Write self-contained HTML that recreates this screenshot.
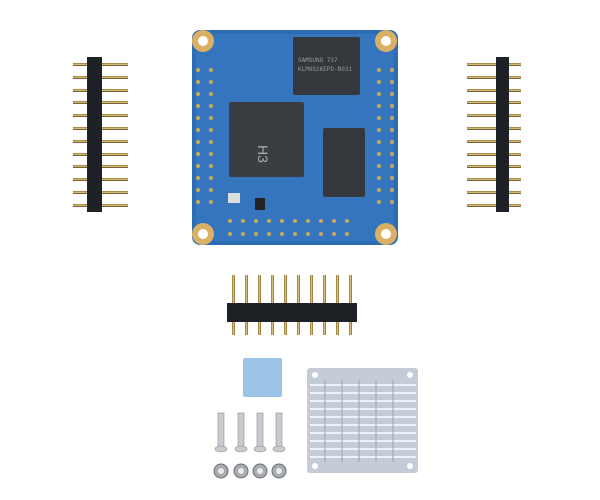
<!DOCTYPE html><html><head><style>body{margin:0;background:#fff}svg{display:block}</style></head><body>
<svg width="600" height="500" viewBox="0 0 600 500" xmlns="http://www.w3.org/2000/svg">
<defs>
<linearGradient id="pin" x1="0" x2="1"><stop offset="0" stop-color="#8a6a2a"/><stop offset=".5" stop-color="#e8d08a"/><stop offset="1" stop-color="#7a5a20"/></linearGradient>
<linearGradient id="pinv" x1="0" x2="0" y1="0" y2="1"><stop offset="0" stop-color="#8a6a2a"/><stop offset=".5" stop-color="#e8d08a"/><stop offset="1" stop-color="#3a2a10"/></linearGradient>
</defs>
<rect width="600" height="500" fill="#fff"/>
<!-- board -->
<rect x="192" y="30" width="206" height="215" rx="8" fill="#2c6cb4"/>
<rect x="196" y="34" width="198" height="207" rx="6" fill="#3a7cc4" opacity=".6"/>
<g fill="#d9b064"><circle cx="203" cy="41" r="11"/><circle cx="386" cy="41" r="11"/><circle cx="203" cy="234" r="11"/><circle cx="386" cy="234" r="11"/></g>
<g fill="#fff"><circle cx="203" cy="41" r="5"/><circle cx="386" cy="41" r="5"/><circle cx="203" cy="234" r="5"/><circle cx="386" cy="234" r="5"/></g>
<g fill="#c9a85a">
<circle cx="198" cy="70" r="2"/><circle cx="198" cy="82" r="2"/><circle cx="198" cy="94" r="2"/><circle cx="198" cy="106" r="2"/><circle cx="198" cy="118" r="2"/><circle cx="198" cy="130" r="2"/><circle cx="198" cy="142" r="2"/><circle cx="198" cy="154" r="2"/><circle cx="198" cy="166" r="2"/><circle cx="198" cy="178" r="2"/><circle cx="198" cy="190" r="2"/><circle cx="198" cy="202" r="2"/>
<circle cx="211" cy="70" r="2"/><circle cx="211" cy="82" r="2"/><circle cx="211" cy="94" r="2"/><circle cx="211" cy="106" r="2"/><circle cx="211" cy="118" r="2"/><circle cx="211" cy="130" r="2"/><circle cx="211" cy="142" r="2"/><circle cx="211" cy="154" r="2"/><circle cx="211" cy="166" r="2"/><circle cx="211" cy="178" r="2"/><circle cx="211" cy="190" r="2"/><circle cx="211" cy="202" r="2"/>
<circle cx="379" cy="70" r="2"/><circle cx="379" cy="82" r="2"/><circle cx="379" cy="94" r="2"/><circle cx="379" cy="106" r="2"/><circle cx="379" cy="118" r="2"/><circle cx="379" cy="130" r="2"/><circle cx="379" cy="142" r="2"/><circle cx="379" cy="154" r="2"/><circle cx="379" cy="166" r="2"/><circle cx="379" cy="178" r="2"/><circle cx="379" cy="190" r="2"/><circle cx="379" cy="202" r="2"/>
<circle cx="392" cy="70" r="2"/><circle cx="392" cy="82" r="2"/><circle cx="392" cy="94" r="2"/><circle cx="392" cy="106" r="2"/><circle cx="392" cy="118" r="2"/><circle cx="392" cy="130" r="2"/><circle cx="392" cy="142" r="2"/><circle cx="392" cy="154" r="2"/><circle cx="392" cy="166" r="2"/><circle cx="392" cy="178" r="2"/><circle cx="392" cy="190" r="2"/><circle cx="392" cy="202" r="2"/>
<circle cx="230" cy="221" r="2"/><circle cx="243" cy="221" r="2"/><circle cx="256" cy="221" r="2"/><circle cx="269" cy="221" r="2"/><circle cx="282" cy="221" r="2"/><circle cx="295" cy="221" r="2"/><circle cx="308" cy="221" r="2"/><circle cx="321" cy="221" r="2"/><circle cx="334" cy="221" r="2"/><circle cx="347" cy="221" r="2"/>
<circle cx="230" cy="234" r="2"/><circle cx="243" cy="234" r="2"/><circle cx="256" cy="234" r="2"/><circle cx="269" cy="234" r="2"/><circle cx="282" cy="234" r="2"/><circle cx="295" cy="234" r="2"/><circle cx="308" cy="234" r="2"/><circle cx="321" cy="234" r="2"/><circle cx="334" cy="234" r="2"/><circle cx="347" cy="234" r="2"/>
</g>
<rect x="229" y="102" width="75" height="75" rx="2" fill="#3a3d42"/>
<text x="258" y="145" font-family="Liberation Sans,sans-serif" font-size="14" fill="#aaa" transform="rotate(90 258 145)">H3</text>
<rect x="293" y="37" width="67" height="58" rx="2" fill="#34373c"/>
<text x="298" y="62" font-family="Liberation Mono,monospace" font-size="6" fill="#999">SAMSUNG   737</text>
<text x="298" y="71" font-family="Liberation Mono,monospace" font-size="6" fill="#999">KLM8G1KEPD-B031</text>
<rect x="323" y="128" width="42" height="69" rx="2" fill="#34373c"/>
<rect x="255" y="198" width="10" height="12" fill="#222"/><rect x="228" y="193" width="12" height="10" fill="#ddd"/>
<!-- left header -->
<g fill="url(#pinv)">
<rect x="73" y="63" width="55" height="3"/><rect x="73" y="76" width="55" height="3"/><rect x="73" y="89" width="55" height="3"/><rect x="73" y="101" width="55" height="3"/><rect x="73" y="114" width="55" height="3"/><rect x="73" y="127" width="55" height="3"/><rect x="73" y="140" width="55" height="3"/><rect x="73" y="153" width="55" height="3"/><rect x="73" y="165" width="55" height="3"/><rect x="73" y="178" width="55" height="3"/><rect x="73" y="191" width="55" height="3"/><rect x="73" y="204" width="55" height="3"/>
</g>
<rect x="87" y="57" width="15" height="155" fill="#1e2226"/>
<!-- right header -->
<g fill="url(#pinv)">
<rect x="467" y="63" width="54" height="3"/><rect x="467" y="76" width="54" height="3"/><rect x="467" y="89" width="54" height="3"/><rect x="467" y="101" width="54" height="3"/><rect x="467" y="114" width="54" height="3"/><rect x="467" y="127" width="54" height="3"/><rect x="467" y="140" width="54" height="3"/><rect x="467" y="153" width="54" height="3"/><rect x="467" y="165" width="54" height="3"/><rect x="467" y="178" width="54" height="3"/><rect x="467" y="191" width="54" height="3"/><rect x="467" y="204" width="54" height="3"/>
</g>
<rect x="496" y="57" width="13" height="155" fill="#1e2226"/>
<!-- bottom header -->
<g fill="url(#pin)">
<rect x="232" y="275" width="3" height="60"/><rect x="245" y="275" width="3" height="60"/><rect x="258" y="275" width="3" height="60"/><rect x="271" y="275" width="3" height="60"/><rect x="284" y="275" width="3" height="60"/><rect x="297" y="275" width="3" height="60"/><rect x="310" y="275" width="3" height="60"/><rect x="323" y="275" width="3" height="60"/><rect x="336" y="275" width="3" height="60"/><rect x="349" y="275" width="3" height="60"/>
</g>
<rect x="227" y="303" width="130" height="19" fill="#1e2226"/>
<!-- thermal pad -->
<rect x="243" y="358" width="39" height="39" rx="2" fill="#9cc4e8"/>
<!-- screws -->
<g fill="#c8ccd0" stroke="#8a8e92" stroke-width=".6">
<rect x="218" y="413" width="6" height="34"/><rect x="238" y="413" width="6" height="34"/><rect x="257" y="413" width="6" height="34"/><rect x="276" y="413" width="6" height="34"/>
<ellipse cx="221" cy="449" rx="6" ry="3"/><ellipse cx="241" cy="449" rx="6" ry="3"/><ellipse cx="260" cy="449" rx="6" ry="3"/><ellipse cx="279" cy="449" rx="6" ry="3"/>
</g>
<g fill="#a8acb0" stroke="#6a6e72" stroke-width="1">
<circle cx="221" cy="471" r="7"/><circle cx="241" cy="471" r="7"/><circle cx="260" cy="471" r="7"/><circle cx="279" cy="471" r="7"/>
</g>
<g fill="#e8eaec"><circle cx="221" cy="471" r="3"/><circle cx="241" cy="471" r="3"/><circle cx="260" cy="471" r="3"/><circle cx="279" cy="471" r="3"/></g>
<!-- heatsink -->
<rect x="307" y="368" width="111" height="105" rx="3" fill="#c4ccd8"/>
<g stroke="#eef2f8" stroke-width="2">
<line x1="310" y1="385" x2="416" y2="385"/><line x1="310" y1="393" x2="416" y2="393"/><line x1="310" y1="401" x2="416" y2="401"/><line x1="310" y1="409" x2="416" y2="409"/><line x1="310" y1="417" x2="416" y2="417"/><line x1="310" y1="425" x2="416" y2="425"/><line x1="310" y1="433" x2="416" y2="433"/><line x1="310" y1="441" x2="416" y2="441"/><line x1="310" y1="449" x2="416" y2="449"/><line x1="310" y1="457" x2="416" y2="457"/>
</g>
<g stroke="#9aa4b4" stroke-width="1">
<line x1="325" y1="380" x2="325" y2="462"/><line x1="342" y1="380" x2="342" y2="462"/><line x1="359" y1="380" x2="359" y2="462"/><line x1="376" y1="380" x2="376" y2="462"/><line x1="393" y1="380" x2="393" y2="462"/>
</g>
<g fill="#fff"><circle cx="315" cy="375" r="3"/><circle cx="410" cy="375" r="3"/><circle cx="315" cy="466" r="3"/><circle cx="410" cy="466" r="3"/></g>
</svg>
</body></html>
